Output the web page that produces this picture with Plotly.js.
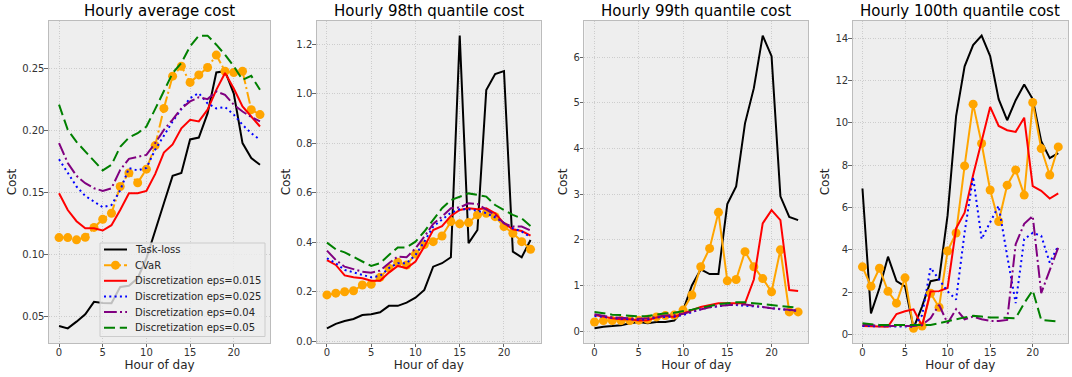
<!DOCTYPE html>
<html>
<head>
<meta charset="utf-8">
<script src="https://cdn.plot.ly/plotly-3.0.1.min.js"></script>
<style>html,body{margin:0;padding:0;background:#fff;}#chart{width:1072px;height:377px;}</style>
</head>
<body>
<div id="chart"></div>
<script>
const hours = [0,1,2,3,4,5,6,7,8,9,10,11,12,13,14,15,16,17,18,19,20,21,22,23];
const seriesNames = ["Task-loss","CVaR","Discretization eps=0.015","Discretization eps=0.025","Discretization eps=0.04","Discretization eps=0.05"];
const panelTitles = ["Hourly average cost","Hourly 98th quantile cost","Hourly 99th quantile cost","Hourly 100th quantile cost"];
const xTickVals = [0,5,10,15,20];

// Hourly average cost
const avgTask = [0.0425,0.0406,0.046,0.052,0.062,0.061,0.0608,0.074,0.075,0.081,0.097,0.120,0.1415,0.1636,0.166,0.193,0.1945,0.214,0.247,0.248,0.230,0.190,0.178,0.1725];
const avgCvar = [0.1138,0.1138,0.112,0.114,0.122,0.1286,0.1334,0.155,0.166,0.158,0.169,0.188,0.218,0.244,0.252,0.239,0.245,0.251,0.261,0.248,0.247,0.248,0.217,0.213];
const avgD015 = [0.1496,0.136,0.127,0.1213,0.1213,0.1195,0.1238,0.136,0.1496,0.1496,0.1515,0.165,0.1824,0.189,0.202,0.2088,0.2075,0.217,0.233,0.2465,0.234,0.2196,0.2115,0.2034];
const avgD025 = [0.177,0.1657,0.155,0.1474,0.143,0.1383,0.140,0.152,0.1698,0.168,0.170,0.1846,0.196,0.2075,0.2174,0.2263,0.2303,0.222,0.218,0.219,0.213,0.2048,0.198,0.1927];
const avgD04 = [0.190,0.174,0.1636,0.1577,0.1536,0.1515,0.1536,0.1684,0.1773,0.179,0.1805,0.190,0.2007,0.209,0.218,0.2236,0.227,0.2255,0.2317,0.229,0.221,0.2155,0.211,0.2075];
const avgD05 = [0.221,0.2007,0.191,0.183,0.1757,0.168,0.1725,0.187,0.1945,0.198,0.2034,0.2174,0.2317,0.2465,0.2546,0.268,0.2767,0.2767,0.2694,0.2613,0.252,0.241,0.2443,0.233];

// Hourly 98th quantile cost
const q98Task = [0.052,0.07,0.082,0.09,0.106,0.109,0.117,0.143,0.143,0.156,0.176,0.207,0.301,0.315,0.339,1.234,0.396,0.449,1.014,1.079,1.091,0.362,0.339,0.409];
const q98Cvar = [0.187,0.194,0.2,0.204,0.227,0.23,0.258,0.295,0.319,0.308,0.352,0.39,0.402,0.425,0.483,0.474,0.479,0.51,0.517,0.503,0.463,0.436,0.402,0.371];
const q98D015 = [0.328,0.308,0.266,0.258,0.254,0.244,0.244,0.277,0.304,0.295,0.322,0.382,0.449,0.465,0.506,0.53,0.537,0.533,0.537,0.517,0.476,0.452,0.445,0.426];
const q98D025 = [0.335,0.315,0.288,0.277,0.268,0.258,0.264,0.295,0.315,0.315,0.348,0.402,0.463,0.49,0.519,0.533,0.533,0.527,0.517,0.5,0.479,0.456,0.443,0.42];
const q98D04 = [0.366,0.328,0.301,0.291,0.281,0.277,0.285,0.315,0.342,0.339,0.375,0.422,0.474,0.503,0.537,0.54,0.557,0.554,0.533,0.51,0.476,0.463,0.463,0.447];
const q98D05 = [0.398,0.371,0.359,0.339,0.322,0.304,0.315,0.348,0.379,0.379,0.402,0.443,0.49,0.537,0.57,0.584,0.597,0.591,0.584,0.55,0.53,0.51,0.496,0.465];

// Hourly 99th quantile cost
const q99Task = [0.06,0.095,0.11,0.13,0.17,0.2,0.17,0.2,0.2,0.23,0.45,1.0,1.35,1.25,1.25,2.78,3.17,4.55,5.32,6.47,6.02,2.95,2.5,2.43];
const q99Cvar = [0.2,0.23,0.23,0.23,0.23,0.24,0.26,0.31,0.34,0.35,0.46,0.79,1.41,1.81,2.6,1.1,1.13,1.74,1.41,1.15,0.86,1.78,0.42,0.42];
const q99D015 = [0.35,0.31,0.28,0.26,0.26,0.23,0.24,0.3,0.33,0.31,0.39,0.46,0.53,0.57,0.61,0.61,0.61,0.61,1.13,2.36,2.65,2.43,0.9,0.88];
const q99D025 = [0.33,0.31,0.28,0.27,0.26,0.25,0.26,0.3,0.31,0.32,0.35,0.42,0.48,0.52,0.55,0.57,0.57,0.56,0.55,0.53,0.5,0.48,0.46,0.44];
const q99D04 = [0.37,0.33,0.3,0.29,0.28,0.27,0.28,0.31,0.34,0.35,0.38,0.43,0.48,0.52,0.55,0.57,0.58,0.58,0.56,0.53,0.5,0.48,0.47,0.45];
const q99D05 = [0.42,0.39,0.36,0.35,0.33,0.32,0.33,0.36,0.39,0.4,0.43,0.47,0.51,0.55,0.59,0.61,0.63,0.63,0.61,0.58,0.56,0.54,0.53,0.51];

// Hourly 100th quantile cost
const q100Task = [6.9,1.0,2.2,3.68,2.52,2.28,0.3,1.32,2.52,2.6,5.63,10.33,12.68,13.68,14.13,13.16,11.13,10.13,11.08,11.82,11.13,9.14,8.34,8.58];
const q100Cvar = [3.2,2.28,3.13,2.04,1.48,2.68,0.29,0.4,1.95,1.29,3.95,4.8,7.97,10.89,9.03,6.83,5.34,7.06,7.78,6.59,10.97,8.79,7.54,8.87];
const q100D015 = [0.4,0.4,0.37,0.37,0.97,1.1,1.19,0.4,2.03,2.05,2.2,5.02,5.76,7.54,9.14,10.76,9.86,9.66,9.58,10.25,7.02,6.79,6.43,6.67];
const q100D025 = [0.4,0.4,0.4,0.4,0.37,0.37,0.37,0.9,3.16,2.6,2.04,1.65,4.83,7.46,4.51,5.31,6.08,3.72,1.48,4.51,4.8,4.67,3.4,4.19];
const q100D04 = [0.45,0.45,0.4,0.4,0.4,0.4,0.4,0.45,0.77,1.4,0.53,1.2,0.72,0.85,0.72,0.64,0.64,0.69,4.27,5.23,5.6,1.96,3.08,4.11];
const q100D05 = [0.53,0.48,0.45,0.45,0.45,0.45,0.45,0.45,0.45,0.53,0.61,0.72,0.81,0.88,0.85,0.8,0.8,0.8,0.77,1.48,2.09,0.69,0.64,0.61];

const panels = [
  [avgTask, avgCvar, avgD015, avgD025, avgD04, avgD05],
  [q98Task, q98Cvar, q98D015, q98D025, q98D04, q98D05],
  [q99Task, q99Cvar, q99D015, q99D025, q99D04, q99D05],
  [q100Task, q100Cvar, q100D015, q100D025, q100D04, q100D05]
];
const yTickFormats = [".2f", ".1f", "d", "d"];
const yDtick = [0.05, 0.2, 1, 2];

const colors = ["#000000","#FFA500","#FF0000","#0000FF","#800080","#008000"];
const dashes = ["solid","12px,3px,2px,3px","solid","2px,3.3px","12.8px,3.2px,2px,3.2px","11px,4.8px"];

const W = 1072, H = 377;
const xDomains = [[0.0457,0.2519],[0.2955,0.5044],[0.5451,0.7540],[0.7954,0.9963]];
const yDomain = [0.0902, 0.9443];
const px = v => v / W;
const py = v => 1 - v / H;

const font = "DejaVu Sans, Liberation Sans, sans-serif";
const traces = [];
const layout = {
  width: W, height: H,
  margin: {l:0, r:0, t:0, b:0},
  paper_bgcolor: "#ffffff",
  plot_bgcolor: "#eeeeee",
  font: {family: font, size: 10, color: "#333333"},
  showlegend: false,
  annotations: [],
  shapes: [],
  hovermode: false
};

panels.forEach((series, p) => {
  const ax = p === 0 ? "" : String(p + 1);
  let lo = Infinity, hi = -Infinity;
  series.forEach(s => s.forEach(v => { lo = Math.min(lo, v); hi = Math.max(hi, v); }));
  const pad = (hi - lo) * 0.05;
  series.forEach((ys, i) => {
    const isCvar = i === 1;
    const tr = {
      x: hours, y: ys,
      xaxis: "x" + ax, yaxis: "y" + ax,
      type: "scatter",
      mode: isCvar ? "lines+markers" : "lines",
      name: seriesNames[i],
      line: {color: colors[i], width: 2, dash: (isCvar && p > 0) ? "solid" : dashes[i]}
    };
    if (isCvar) tr.marker = {size: 9, color: colors[i]};
    traces.push(tr);
  });
  layout["xaxis" + ax] = {
    domain: xDomains[p], anchor: "y" + ax,
    range: [-1.15, 24.15],
    tickmode: "array", tickvals: xTickVals,
    ticks: "outside", ticklen: 3.5, tickwidth: 1, tickcolor: "#666666",
    ticklabelstandoff: -3,
    showgrid: true, gridcolor: "#c4c4c4", griddash: "1px,1.5px", gridwidth: 0.8,
    zeroline: false, showline: true, linecolor: "#bcbcbc", linewidth: 1, mirror: true,
    tickfont: {family: font, size: 10, color: "#333333"},
    title: {text: "Hour of day", font: {family: font, size: 12, color: "#262626"}, standoff: 1},
    automargin: false
  };
  layout["yaxis" + ax] = {
    domain: yDomain, anchor: "x" + ax,
    range: [lo - pad, hi + pad],
    dtick: yDtick[p], tick0: 0, tickformat: yTickFormats[p],
    ticks: "outside", ticklen: 3.5, tickwidth: 1, tickcolor: "#666666",
    ticklabelstandoff: -2,
    showgrid: true, gridcolor: "#c4c4c4", griddash: "1px,1.5px", gridwidth: 0.8,
    zeroline: false, showline: true, linecolor: "#bcbcbc", linewidth: 1, mirror: true,
    tickfont: {family: font, size: 10, color: "#333333"},
    title: {text: "Cost", font: {family: font, size: 12, color: "#262626"}, standoff: 3},
    automargin: false
  };
  layout.annotations.push({
    text: panelTitles[p], showarrow: false,
    xref: "paper", yref: "paper",
    x: (xDomains[p][0] + xDomains[p][1]) / 2, y: py(11),
    xanchor: "center", yanchor: "middle",
    font: {family: font, size: 15, color: "#000000"}
  });
});

// Legend (drawn in the first panel, lower right)
const legBox = {x0: 100, x1: 265, y0: 243, y1: 336.5};
const legRow0 = 249.5, legRowStep = 15.65;
layout.shapes.push({
  type: "rect", xref: "paper", yref: "paper",
  x0: px(legBox.x0), x1: px(legBox.x1), y0: py(legBox.y1), y1: py(legBox.y0),
  fillcolor: "rgba(238,238,238,0.8)", line: {color: "#cccccc", width: 1}, layer: "above"
});
seriesNames.forEach((name, i) => {
  const yc = legRow0 + i * legRowStep;
  layout.shapes.push({
    type: "line", xref: "paper", yref: "paper",
    x0: px(104), x1: px(127), y0: py(yc), y1: py(yc),
    line: {color: colors[i], width: 2, dash: dashes[i]}, layer: "above"
  });
  if (i === 1) {
    layout.shapes.push({
      type: "circle", xref: "paper", yref: "paper",
      x0: px(115.5 - 4.5), x1: px(115.5 + 4.5), y0: py(yc + 4.5), y1: py(yc - 4.5),
      fillcolor: colors[i], line: {color: colors[i], width: 0}, layer: "above"
    });
  }
  layout.annotations.push({
    text: name, showarrow: false, xref: "paper", yref: "paper",
    x: px(132.5), y: py(yc), xanchor: "left", yanchor: "middle",
    font: {family: font, size: 10, color: "#262626"}
  });
});

Plotly.newPlot("chart", traces, layout, {displayModeBar: false, staticPlot: true});
</script>
</body>
</html>
